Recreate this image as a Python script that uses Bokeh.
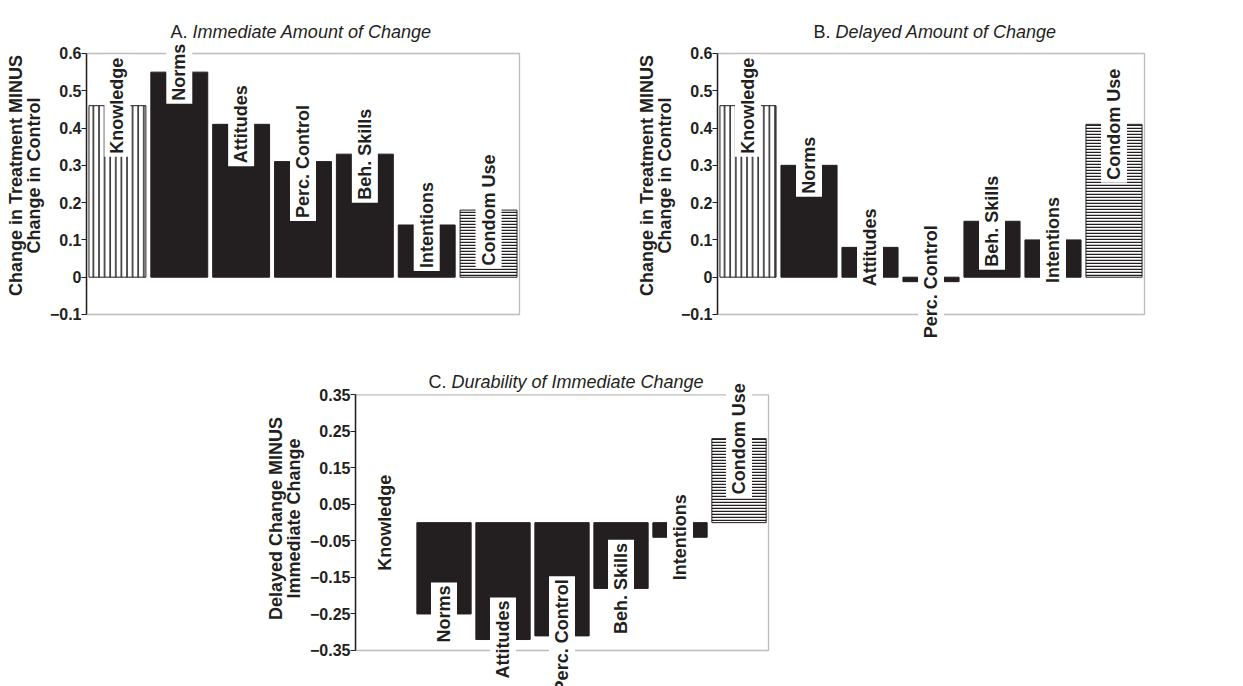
import math
from bokeh.plotting import figure
from bokeh.models import (ColumnDataSource, Range1d, FixedTicker, BoxAnnotation, Label,
                          CustomJSTickFormatter)
from bokeh.layouts import column, row
from bokeh.embed import file_html
from bokeh.resources import INLINE
from bokeh.core.properties import value

# ---------------- data ----------------
categories = ["Knowledge", "Norms", "Attitudes", "Perc. Control",
              "Beh. Skills", "Intentions", "Condom Use"]
immediate = [0.46, 0.55, 0.41, 0.31, 0.33, 0.14, 0.18]
delayed = [0.46, 0.30, 0.08, -0.012, 0.15, 0.10, 0.41]
durability = [0.0, -0.25, -0.32, -0.31, -0.18, -0.04, 0.23]

ab_ticks = [-0.1, 0, 0.1, 0.2, 0.3, 0.4, 0.5, 0.6]
ab_tick_labels = ["\u22120.1", "0", "0.1", "0.2", "0.3", "0.4", "0.5", "0.6"]
c_ticks = [-0.35, -0.25, -0.15, -0.05, 0.05, 0.15, 0.25, 0.35]
c_tick_labels = ["\u22120.35", "\u22120.25", "\u22120.15", "\u22120.05",
                 "0.05", "0.15", "0.25", "0.35"]

ab_axis_label = "Change in Treatment MINUS\nChange in Control"
c_axis_label = "Delayed Change MINUS\nImmediate Change"

titles = [("A.", "Immediate Amount of Change"),
          ("B.", "Delayed Amount of Change"),
          ("C.", "Durability of Immediate Change")]

# ---------------- style ----------------
INK = "#231f20"
FONT = "Liberation Sans"


def panel(vals, ticks, tick_labels, axis_label, title, width, height,
          border_left, xr, yr, title_xy, title_gap):
    p = figure(width=width, height=height, x_range=Range1d(*xr), y_range=Range1d(*yr),
               output_backend="svg", toolbar_location=None, tools="",
               x_axis_location=None, min_border_left=border_left, min_border_right=0,
               min_border_top=0, min_border_bottom=0)
    p.outline_line_color = None
    p.grid.visible = False
    p.background_fill_color = "white"
    p.border_fill_color = "white"

    lo, hi = ticks[0], ticks[-1]
    p.add_layout(BoxAnnotation(left=-0.5, right=6.5, bottom=lo, top=hi,
                               fill_color=None, fill_alpha=0, line_color=INK,
                               line_width=1.3, level="underlay"))

    fills, hatches, scales, lalpha = [], [], [], []
    for c, v in zip(categories, vals):
        if c == "Knowledge":
            fills.append("white"); hatches.append("|"); scales.append(5.6)
        elif c == "Condom Use":
            fills.append("white"); hatches.append("-"); scales.append(3.0)
        else:
            fills.append(INK); hatches.append(" "); scales.append(6)
        lalpha.append(0.0 if v == 0 else 1.0)

    src = ColumnDataSource(dict(x=list(range(len(categories))), top=vals,
                                label=categories, fill=fills, hatch=hatches,
                                scale=scales, la=lalpha))
    p.vbar(x="x", top="top", bottom=0, width=0.92, source=src,
           fill_color="fill", hatch_pattern="hatch", hatch_scale="scale",
           hatch_color=INK, hatch_weight=1.5, line_color=INK, line_alpha="la",
           line_width=1)
    p.text(x="x", y="top", text="label", source=src, angle=math.pi / 2,
           text_align="center", text_baseline="middle", text_font=value(FONT),
           text_font_style="bold", text_font_size="18px", text_color=INK,
           background_fill_color="white", padding=3)

    ax = p.yaxis[0]
    ax.ticker = FixedTicker(ticks=ticks)
    ax.bounds = (lo, hi)
    ax.formatter = CustomJSTickFormatter(
        args=dict(tvals=ticks, tlabels=tick_labels),
        code="""
        for (let i = 0; i < tvals.length; i++) {
            if (Math.abs(tvals[i] - tick) < 1e-9) { return tlabels[i]; }
        }
        return "";
        """)
    ax.major_tick_out = 5
    ax.major_tick_in = 0
    ax.minor_tick_out = 0
    ax.minor_tick_in = 0
    ax.axis_line_color = INK
    ax.axis_line_width = 1.5
    ax.major_tick_line_color = INK
    ax.major_label_text_font = FONT
    ax.major_label_text_font_size = "16px"
    ax.major_label_text_font_style = "bold"
    ax.major_label_text_color = INK
    ax.major_label_standoff = 0
    ax.axis_label = axis_label
    ax.axis_label_text_font = FONT
    ax.axis_label_text_font_size = "18px"
    ax.axis_label_text_font_style = "bold"
    ax.axis_label_text_color = INK
    ax.axis_label_standoff = 3
    ax.axis_label_text_line_height = 0.9

    tx, ty = title_xy
    p.add_layout(Label(x=tx, y=ty, x_units="screen", y_units="screen", text=title[0],
                       text_font=FONT, text_font_size="18px", text_color=INK,
                       text_align="left", text_baseline="alphabetic"))
    p.add_layout(Label(x=tx + title_gap, y=ty, x_units="screen", y_units="screen",
                       text=title[1], text_font=FONT, text_font_size="18px",
                       text_font_style="italic", text_color=INK,
                       text_align="left", text_baseline="alphabetic"))
    return p


pA = panel(immediate, ab_ticks, ab_tick_labels, ab_axis_label, titles[0],
           620, 350, 86, (-0.5, 8.133), (-0.1966, 0.7421), (84, 319), 22)
pB = panel(delayed, ab_ticks, ab_tick_labels, ab_axis_label, titles[1],
           623, 350, 97, (-0.5, 8.123), (-0.1966, 0.7421), (96, 319), 22)
pC = panel(durability, c_ticks, c_tick_labels, c_axis_label, titles[2],
           900, 336, 355, (-0.5, 8.737), (-0.4486, 0.4713), (73, 305), 23)

layout = column(row(pA, pB), pC)
open("out.html", "w").write(file_html(layout, INLINE))
